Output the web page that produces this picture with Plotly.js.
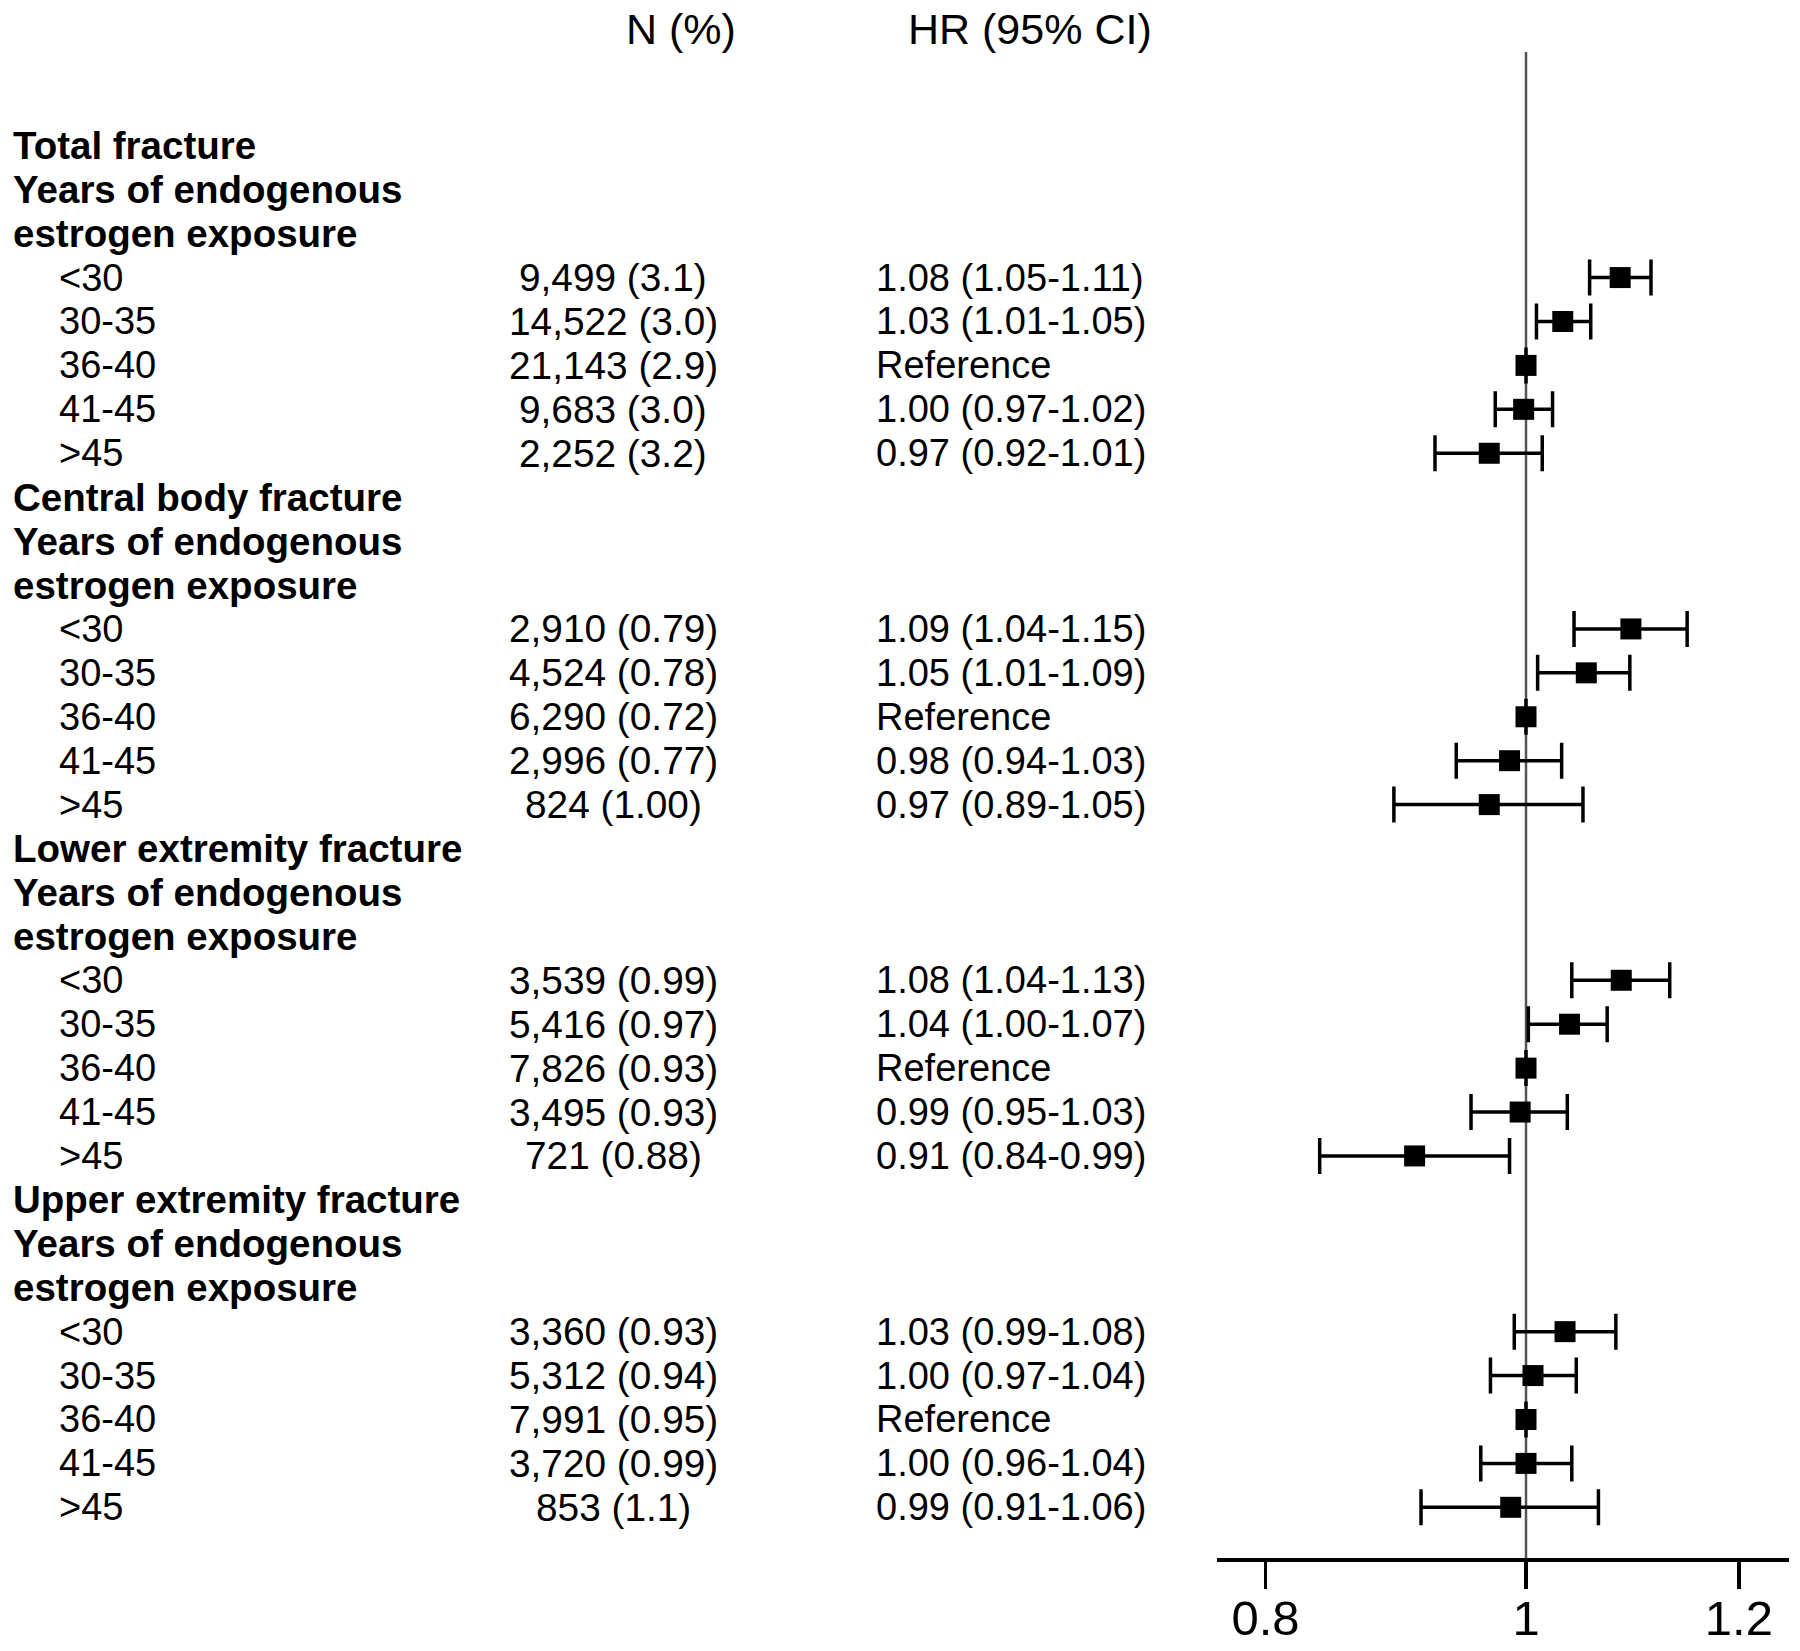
<!DOCTYPE html>
<html><head><meta charset="utf-8">
<script src="https://cdn.plot.ly/plotly-3.0.1.min.js"></script>
<style>body{margin:0;background:#fff}#chart{width:1800px;height:1651px}</style>
</head><body><div id="chart"></div>
<script>
const outcomes = ["Total fracture", "Central body fracture", "Lower extremity fracture", "Upper extremity fracture"];
const subLabels = ["Years of endogenous", "estrogen exposure"];
const groups = ["<30", "30-35", "36-40", "41-45", ">45"];
const headers = ["N (%)", "HR (95% CI)"];

const nTotal   = ["9,499 (3.1)", "14,522 (3.0)", "21,143 (2.9)", "9,683 (3.0)", "2,252 (3.2)"];
const nCentral = ["2,910 (0.79)", "4,524 (0.78)", "6,290 (0.72)", "2,996 (0.77)", "824 (1.00)"];
const nLower   = ["3,539 (0.99)", "5,416 (0.97)", "7,826 (0.93)", "3,495 (0.93)", "721 (0.88)"];
const nUpper   = ["3,360 (0.93)", "5,312 (0.94)", "7,991 (0.95)", "3,720 (0.99)", "853 (1.1)"];

const ciTextTotal   = ["1.08 (1.05-1.11)", "1.03 (1.01-1.05)", "Reference", "1.00 (0.97-1.02)", "0.97 (0.92-1.01)"];
const ciTextCentral = ["1.09 (1.04-1.15)", "1.05 (1.01-1.09)", "Reference", "0.98 (0.94-1.03)", "0.97 (0.89-1.05)"];
const ciTextLower   = ["1.08 (1.04-1.13)", "1.04 (1.00-1.07)", "Reference", "0.99 (0.95-1.03)", "0.91 (0.84-0.99)"];
const ciTextUpper   = ["1.03 (0.99-1.08)", "1.00 (0.97-1.04)", "Reference", "1.00 (0.96-1.04)", "0.99 (0.91-1.06)"];

const hrTotal   = [1.084, 1.032, 1.00, 0.998, 0.969];
const loTotal   = [1.056, 1.009, 1.00, 0.974, 0.925];
const hiTotal   = [1.113, 1.057, 1.00, 1.023, 1.014];
const hrCentral = [1.094, 1.053, 1.00, 0.986, 0.969];
const loCentral = [1.042, 1.010, 1.00, 0.942, 0.893];
const hiCentral = [1.148, 1.093, 1.00, 1.031, 1.050];
const hrLower   = [1.085, 1.038, 1.00, 0.995, 0.909];
const loLower   = [1.040, 1.002, 1.00, 0.954, 0.838];
const hiLower   = [1.131, 1.072, 1.00, 1.036, 0.986];
const hrUpper   = [1.034, 1.006, 1.00, 1.000, 0.987];
const loUpper   = [0.990, 0.970, 1.00, 0.962, 0.914];
const hiUpper   = [1.080, 1.044, 1.00, 1.040, 1.064];

const xTicks = [0.8, 1, 1.2];
const xTickText = ["0.8", "1", "1.2"];

const nAll = [nTotal, nCentral, nLower, nUpper];
const ciAll = [ciTextTotal, ciTextCentral, ciTextLower, ciTextUpper];
const hrAll = [hrTotal, hrCentral, hrLower, hrUpper];
const loAll = [loTotal, loCentral, loLower, loUpper];
const hiAll = [hiTotal, hiCentral, hiLower, hiUpper];

const FONT = "Liberation Sans, Arial, Helvetica, sans-serif";
const esc = s => s.replace(/</g, "&lt;").replace(/>/g, "&gt;");

const ann = [];
const px = [], py = [], ep = [], em = [];
const rowsPer = 2 + 1 + groups.length;
outcomes.forEach((o, k) => {
  const base = k * rowsPer;
  ann.push({text: "<b>" + o + "</b>", x: 0.0062, xanchor: "left", y: base, size: 38.5});
  subLabels.forEach((s, j) => ann.push({text: "<b>" + s + "</b>", x: 0.0062, xanchor: "left", y: base + 1 + j, size: 38.5}));
  groups.forEach((g, i) => {
    const r = base + 3 + i;
    ann.push({text: esc(g), x: 0.0315, xanchor: "left", y: r, size: 38});
    ann.push({text: nAll[k][i], x: 0.3408, xanchor: "center", y: r, size: 38.8});
    ann.push({text: ciAll[k][i], x: 0.4855, xanchor: "left", y: r, size: 38});
    px.push(hrAll[k][i]); py.push(r);
    ep.push(hiAll[k][i] - hrAll[k][i]); em.push(hrAll[k][i] - loAll[k][i]);
  });
});
const annotations = ann.map(a => ({
  text: a.text, x: a.x, y: a.y, xanchor: a.xanchor,
  xref: "paper", yref: "y", yanchor: "middle", showarrow: false,
  font: {family: FONT, size: a.size, color: "#000"}
}));
annotations.push({text: headers[0], xref: "paper", yref: "paper", x: 0.3786, y: 1.0153, xanchor: "center", yanchor: "middle", showarrow: false, font: {family: FONT, size: 43, color: "#000"}});
annotations.push({text: headers[1], xref: "paper", yref: "paper", x: 0.5033, y: 1.0153, xanchor: "left", yanchor: "middle", showarrow: false, font: {family: FONT, size: 43, color: "#000"}});

const trace = {
  type: "scatter", mode: "markers", x: px, y: py,
  marker: {symbol: "square", size: 21, color: "#000"},
  error_x: {type: "data", symmetric: false, array: ep, arrayminus: em, color: "#000", thickness: 3.5, width: 18},
  hoverinfo: "skip", showlegend: false, cliponaxis: false
};

const layout = {
  width: 1800, height: 1651,
  margin: {l: 0, r: 0, t: 52, b: 93, pad: 0},
  paper_bgcolor: "#fff", plot_bgcolor: "#fff",
  showlegend: false,
  xaxis: {
    type: "log", domain: [0.6761, 0.9939], range: [-0.11496, 0.09784],
    tickvals: xTicks, ticktext: xTickText,
    showline: true, linecolor: "#000", linewidth: 3.5,
    ticks: "outside", ticklen: 27, tickwidth: 3.5, tickcolor: "#000",
    ticklabelstandoff: -12,
    showgrid: false, zeroline: false,
    tickfont: {family: FONT, size: 49, color: "#000"}
  },
  yaxis: {range: [32.154, -2.136], visible: false, showgrid: false, zeroline: false, fixedrange: true},
  shapes: [{type: "line", xref: "x", yref: "paper", x0: 1, x1: 1, y0: 0, y1: 1, layer: "below", line: {color: "#555", width: 2.5}}],
  annotations: annotations
};

Plotly.newPlot("chart", [trace], layout, {staticPlot: true, displayModeBar: false});
</script></body></html>
